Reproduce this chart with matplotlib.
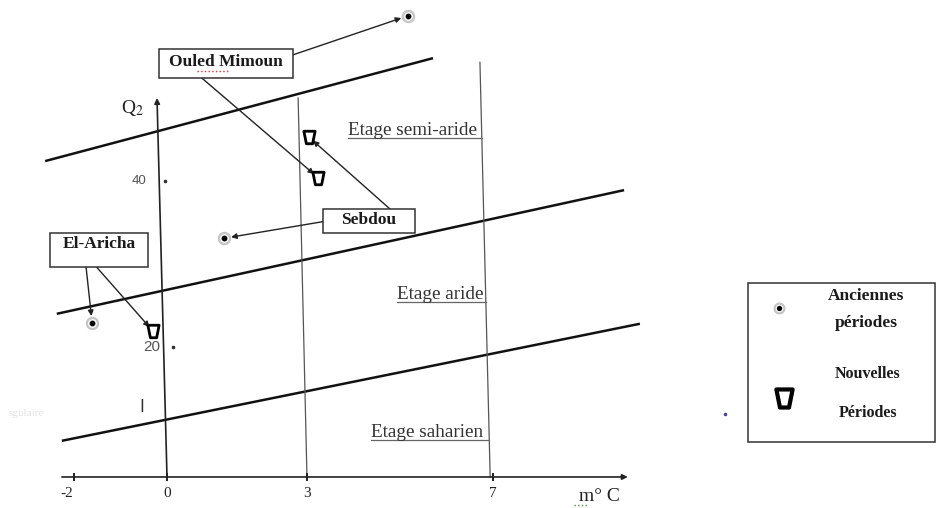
import matplotlib
matplotlib.use('Agg')
import matplotlib.pyplot as plt
from matplotlib.path import Path
from matplotlib.patches import Rectangle

plt.rcParams['mathtext.fontset'] = 'stix'

# ---------------- data (Emberger climagram: m (°C) vs Q2) ----------------
x_ticks = [-2, 0, 3, 7]
x_tick_labels = ['-2', '0', '3', '7']
y_ticks = [40, 20]
y_tick_labels = ['40', '20']

# stage boundary lines (m, Q2 endpoints)
bound1_m = [-2.62, 5.72]
bound1_q = [42.4, 54.8]
bound2_m = [-2.37, 9.83]
bound2_q = [24.0, 38.9]
bound3_m = [-2.26, 10.17]
bound3_q = [8.7, 22.8]

# sketched vertical guides (slightly slanted in the original)
yaxis_m = [0.0, -0.215]
yaxis_q = [4.34, 50.0]
vert3_m = [2.82, 3.01]
vert3_q = [50.0, 4.34]
vert7_m = [6.73, 6.95]
vert7_q = [54.3, 4.34]
xaxis_q = 4.34
xaxis_m = [-2.26, 9.91]

stations = ['Ouled Mimoun', 'Sebdou', 'El-Aricha']
ancien_m = [5.18, 1.23, -1.61]
ancien_q = [59.9, 33.1, 22.9]
nouveau_m = [3.25, 3.05, -0.30]
nouveau_q = [40.4, 45.3, 21.9]

stages = ['Etage semi-aride', 'Etage aride', 'Etage saharien']
stage_m = [3.89, 4.95, 4.39]
stage_q = [45.5, 25.8, 9.2]
stage_end_m = [6.78, 6.86, 6.93]

# ---------------- figure ----------------
fig = plt.figure(figsize=(9.37, 5.08), dpi=100)
ax = fig.add_axes([0, 0, 1, 1])
ax.set_xlim(-167 / 46.5, (937 - 167) / 46.5)
ax.set_ylim(20 - 161 / 8.3, 20 + 347 / 8.3)
ax.axis('off')

serif = 'Liberation Serif'

# boundaries
for bm, bq in [(bound1_m, bound1_q), (bound2_m, bound2_q), (bound3_m, bound3_q)]:
    ax.plot(bm, bq, color='#111111', lw=1.8, solid_capstyle='butt')

# vertical guides
ax.plot(vert3_m, vert3_q, color='#555555', lw=0.9)
ax.plot(vert7_m, vert7_q, color='#555555', lw=0.9)

# y axis with arrow
ax.annotate('', xy=(yaxis_m[1], yaxis_q[1]), xytext=(yaxis_m[0], yaxis_q[0]),
            arrowprops=dict(arrowstyle='-|>', color='#222222', lw=1.2,
                            mutation_scale=8, shrinkA=0, shrinkB=0))
# x axis with arrow
ax.annotate('', xy=(xaxis_m[1], xaxis_q), xytext=(xaxis_m[0], xaxis_q),
            arrowprops=dict(arrowstyle='-|>', color='#222222', lw=1.2,
                            mutation_scale=8, shrinkA=0, shrinkB=0))

# x ticks
ax.plot(x_ticks, [xaxis_q] * len(x_ticks), linestyle='none', marker='|',
        ms=6, mew=1.4, color='#222222')
for xv, lab in zip(x_ticks, x_tick_labels):
    dx = -5 if xv == -2 else 0
    ax.annotate(lab, (xv, xaxis_q), xytext=(dx, -12), textcoords='offset points',
                ha='center', va='center', fontsize=11, family=serif, color='#222222')
ax.text(9.31, 1.93, 'm° C', ha='center', va='center', fontsize=14, family=serif,
        color='#222222')
ax.plot([8.75, 9.05], [0.95, 0.95], color='#3a9a3a', lw=1, linestyle=':')

# y ticks
ax.plot([-0.05, 0.12], y_ticks, linestyle='none', marker='s', ms=2, color='#333333')
ax.text(-0.45, y_ticks[0], y_tick_labels[0], ha='right', va='center', fontsize=9.5,
        family='Liberation Sans', color='#555555')
ax.text(-0.15, y_ticks[1], y_tick_labels[1], ha='right', va='center', fontsize=11,
        family='Liberation Sans', color='#555555')
ax.text(-0.75, 48.8, 'Q$_2$', ha='center', va='center', fontsize=14, family=serif,
        color='#222222')
ax.text(-0.54, 12.8, 'I', ha='center', va='center', fontsize=12,
        family='DejaVu Sans', color='#333333')
ax.text(-3.4, 12.0, 'sgulaire', ha='left', va='center', fontsize=8,
        family=serif, color='#e4e4e4')

# stage labels (underlined)
for name, sm, sq, se in zip(stages, stage_m, stage_q, stage_end_m):
    ax.text(sm, sq, name, ha='left', va='baseline', fontsize=13.8, family=serif,
            color='#333333')
    ax.plot([sm, se], [sq - 0.35, sq - 0.35], color='#666666', lw=0.9)

# trapezoid marker
trap = Path([(-0.45, 0.5), (0.45, 0.5), (0.25, -0.5), (-0.25, -0.5), (-0.45, 0.5)],
            [Path.MOVETO, Path.LINETO, Path.LINETO, Path.LINETO, Path.CLOSEPOLY])


def draw_ancien(m, q, size=8):
    ax.plot(m, q, linestyle='none', marker='o', ms=size, mfc='white',
            mec='#c4c4c4', mew=1.6, zorder=5)
    ax.plot(m, q, linestyle='none', marker='o', ms=size * 0.4, color='black', zorder=6)


def draw_nouveau(m, q, size=9, mew=2.0):
    ax.plot(m, q, linestyle='none', marker=trap, ms=size, mfc='white',
            mec='black', mew=mew, zorder=5)


draw_ancien(ancien_m, ancien_q)
draw_nouveau(nouveau_m, nouveau_q)

# station boxes
boxes = {
    'Ouled Mimoun': (-0.172, 52.4, 2.882, 3.5),
    'Sebdou': (3.35, 33.7, 1.98, 2.9),
    'El-Aricha': (-2.52, 29.6, 2.11, 4.1),
}
for name, (bx, by, bw, bh) in boxes.items():
    ax.add_patch(Rectangle((bx, by), bw, bh, fill=True, fc='white', ec='#333333',
                           lw=1.1, zorder=4))
    ty = by + bh * (0.55 if name != 'El-Aricha' else 0.68)
    ax.text(bx + bw / 2, ty, name, ha='center', va='center', fontsize=12.5,
            family=serif, weight='bold', color='#1a1a1a', zorder=6)
ax.plot([0.65, 1.32], [53.2, 53.2], color='#e03030', lw=1, linestyle=':', zorder=6)

# arrows from boxes to points
starts = {
    'Ouled Mimoun': [(2.71, 55.2), (0.75, 52.4)],
    'Sebdou': [(3.35, 35.1), (4.80, 36.6)],
    'El-Aricha': [(-1.74, 29.6), (-1.51, 29.6)],
}
for i, name in enumerate(stations):
    s_anc, s_nov = starts[name]
    ax.annotate('', xy=(ancien_m[i], ancien_q[i]), xytext=s_anc,
                arrowprops=dict(arrowstyle='-|>', color='#222222', lw=1.0,
                                mutation_scale=8, shrinkA=0, shrinkB=5), zorder=3)
    ax.annotate('', xy=(nouveau_m[i], nouveau_q[i]), xytext=s_nov,
                arrowprops=dict(arrowstyle='-|>', color='#222222', lw=1.0,
                                mutation_scale=8, shrinkA=0, shrinkB=4), zorder=3)

# legend box
ax.add_patch(Rectangle((12.49, 8.55), 4.03, 19.15, fill=False, ec='#333333', lw=1.1))
draw_ancien([13.16], [24.7], size=7)
draw_nouveau([13.27], [13.9], size=13, mew=3.0)
ax.text(15.03, 26.1, 'Anciennes', ha='center', va='center', fontsize=12.5,
        family=serif, weight='bold', color='#1a1a1a')
ax.text(15.03, 22.9, 'périodes', ha='center', va='center', fontsize=12.5,
        family=serif, weight='bold', color='#1a1a1a')
ax.text(15.07, 16.7, 'Nouvelles', ha='center', va='center', fontsize=11.5,
        family=serif, weight='bold', color='#1a1a1a')
ax.text(15.07, 12.0, 'Périodes', ha='center', va='center', fontsize=11.5,
        family=serif, weight='bold', color='#1a1a1a')
ax.plot([12.0], [11.9], linestyle='none', marker='o', ms=1.5, color='#4040a0')

fig.savefig('out.png', dpi=100)
